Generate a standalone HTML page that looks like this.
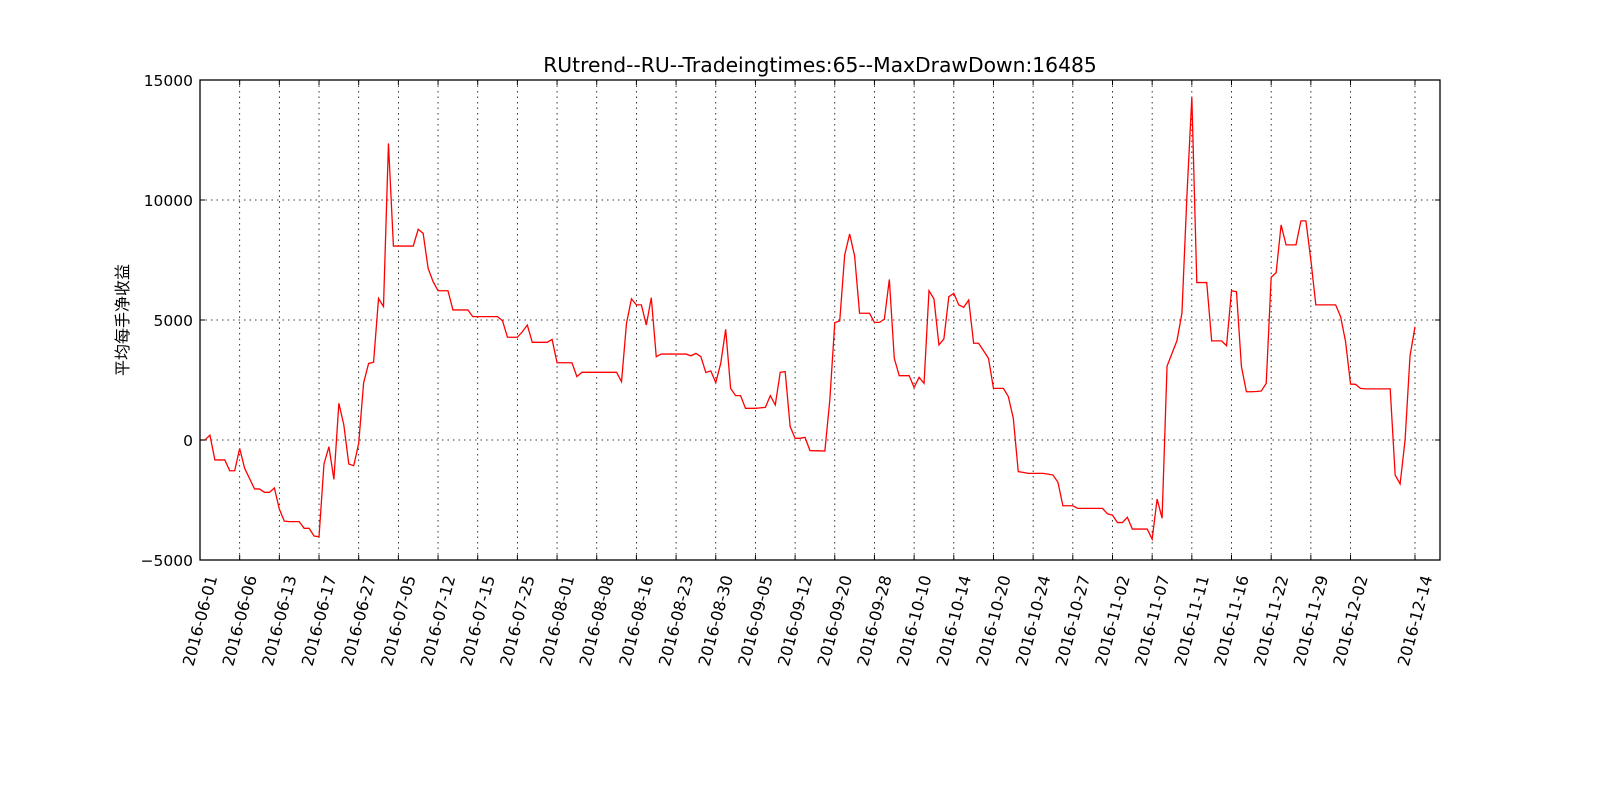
<!DOCTYPE html>
<html><head><meta charset="utf-8"><style>
html,body{margin:0;padding:0;background:#fff;}
svg{display:block;font-family:"DejaVu Sans","Liberation Sans","Noto Sans CJK SC",sans-serif;}
</style></head><body>
<svg id="chart" width="1600" height="800" viewBox="0 0 1600 800" xmlns="http://www.w3.org/2000/svg">
<rect width="1600" height="800" fill="#fff"/>
<text x="820" y="72" text-anchor="middle" font-size="20.3">RUtrend--RU--Tradeingtimes:65--MaxDrawDown:16485</text>
<text transform="translate(128,320) rotate(-90)" text-anchor="middle" font-size="16" font-family="'DejaVu Sans','Noto Sans CJK SC',sans-serif">平均每手净收益</text>
<g id="grid"></g>
<g id="series"></g>
<rect x="200" y="80" width="1240" height="480" fill="none" stroke="#000" stroke-width="1.3"/>
<g id="axes"></g>
</svg>
<script>
const values = [0,0,200,-830,-830,-830,-1280,-1280,-350,-1180,
-1610,-2040,-2040,-2180,-2180,-2000,-2880,-3380,-3400,-3400,
-3400,-3680,-3680,-4000,-4030,-1000,-280,-1640,1530,630,
-1000,-1070,-140,2390,3190,3240,5900,5560,12360,8080,
8080,8080,8080,8080,8780,8610,7150,6600,6220,6220,
6220,5420,5420,5420,5420,5140,5140,5140,5140,5140,
5140,4970,4280,4280,4280,4510,4790,4070,4070,4070,
4070,4190,3220,3220,3220,3220,2640,2820,2820,2820,
2820,2820,2820,2820,2820,2430,4860,5880,5630,5630,
4790,5930,3470,3580,3580,3580,3580,3580,3580,3510,
3610,3470,2810,2880,2390,3190,4610,2150,1850,1850,
1320,1320,1320,1340,1360,1850,1460,2820,2850,560,
70,70,110,-440,-450,-450,-460,1670,4890,4960,
7710,8580,7670,5280,5280,5280,4900,4900,5030,6690,
3400,2680,2680,2680,2190,2610,2360,6220,5880,3960,
4210,5970,6110,5630,5530,5830,4030,4030,3720,3400,
2150,2150,2150,1810,900,-1320,-1350,-1390,-1390,-1390,
-1390,-1420,-1460,-1760,-2740,-2740,-2740,-2850,-2850,-2850,
-2850,-2850,-2850,-3080,-3130,-3440,-3440,-3220,-3710,-3710,
-3710,-3710,-4130,-2460,-3260,3080,3610,4140,5280,10140,
14280,6560,6560,6560,4130,4130,4130,3930,6220,6180,
3060,2010,2010,2020,2040,2360,6780,6970,8960,8130,
8130,8130,9130,9130,7500,5630,5630,5630,5630,5630,
5140,4100,2330,2320,2150,2130,2130,2130,2130,2130,
2130,-1460,-1830,0,3510,4720];
const tickIndex = [0,8,16,24,32,40,48,56,64,72,80,88,96,104,112,120,128,136,144,152,160,168,176,184,192,200,208,216,224,232,245];
const tickLabels = ["2016-06-01","2016-06-06","2016-06-13","2016-06-17","2016-06-27","2016-07-05","2016-07-12","2016-07-15","2016-07-25","2016-08-01","2016-08-08","2016-08-16","2016-08-23","2016-08-30","2016-09-05","2016-09-12","2016-09-20","2016-09-28","2016-10-10","2016-10-14","2016-10-20","2016-10-24","2016-10-27","2016-11-02","2016-11-07","2016-11-11","2016-11-16","2016-11-22","2016-11-29","2016-12-02","2016-12-14"];
const yTicks = [-5000,0,5000,10000,15000];
const yTickLabels = ["\u22125000","0","5000","10000","15000"];

const NS="http://www.w3.org/2000/svg";
const L=200,R=1440,T=80,B=560;
const xs=i=>L+(i/245)*(1415-L);
const ys=v=>B-(v-(-5000))/(20000)*(B-T);
function mk(tag,attrs,parent){const e=document.createElementNS(NS,tag);for(const k in attrs)e.setAttribute(k,attrs[k]);parent.appendChild(e);return e;}
const grid=document.getElementById('grid'),axes=document.getElementById('axes'),series=document.getElementById('series');
tickIndex.forEach((ix,k)=>{
  const x=xs(ix);
  const g=mk('line',{x1:x,x2:x,y1:T,y2:B,stroke:'#000','stroke-width':0.8,'stroke-dasharray':'1.5,4'},grid);
  
  
  mk('line',{x1:x,x2:x,y1:B,y2:B-5,stroke:'#000','stroke-width':1},axes);
  mk('line',{x1:x,x2:x,y1:T,y2:T+5,stroke:'#000','stroke-width':1},axes);
  const t=mk('text',{transform:`translate(${x+13},${B+16}) rotate(-75)`,'text-anchor':'end','font-size':16,'dominant-baseline':'middle'},axes);
  t.textContent=tickLabels[k];
  
  
});
yTicks.forEach((v,k)=>{
  const y=ys(v);
  const g=mk('line',{x1:L,x2:R,y1:y,y2:y,stroke:'#000','stroke-width':0.8,'stroke-dasharray':'1.5,4'},grid);
  
  
  mk('line',{x1:L,x2:L+5,y1:y,y2:y,stroke:'#000','stroke-width':1},axes);
  mk('line',{x1:R,x2:R-5,y1:y,y2:y,stroke:'#000','stroke-width':1},axes);
  const t=mk('text',{x:L-7,y:y+6,'text-anchor':'end','font-size':15.5},axes);
  t.textContent=yTickLabels[k];
  
  
});
const pts=values.map((v,i)=>xs(i).toFixed(2)+','+ys(v).toFixed(2)).join(' ');
const line=mk('polyline',{points:pts,fill:'none',stroke:'#ff0000','stroke-width':1.3,'stroke-linejoin':'miter'},series);


</script>
</body></html>
